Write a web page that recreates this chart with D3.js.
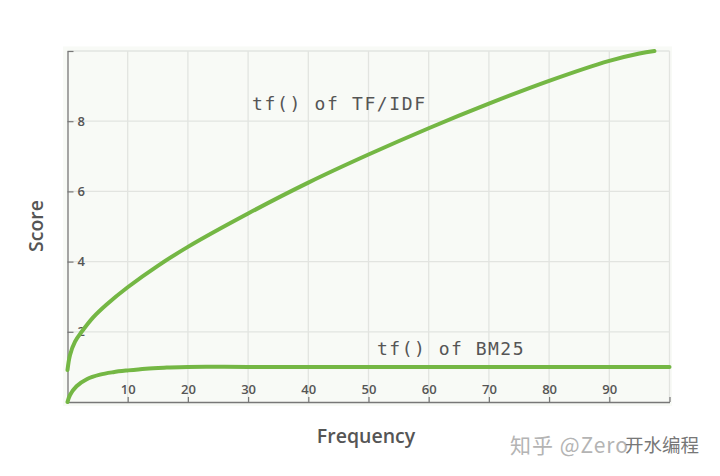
<!DOCTYPE html>
<html>
<head>
<meta charset="utf-8">
<script src="https://cdn.jsdelivr.net/npm/d3@7"></script>
<style>
  body { margin: 0; background: #fff; }
  .tick text { font-family: "Open Sans", sans-serif; font-weight: 600; font-size: 13px; fill: #555; }
</style>
</head>
<body>
<div id="chart"></div>
<script>
const xTicks = [10, 20, 30, 40, 50, 60, 70, 80, 90]
const yTicks = [2, 4, 6, 8]

const tfFreq = [0, 0.42, 1.25, 2.35, 4.3, 6.5, 10, 15, 20, 30, 40, 50, 60, 70, 80, 90, 95, 97.5]
const tfScore = [0.91, 1.34, 1.72, 2, 2.42, 2.78, 3.27, 3.88, 4.42, 5.37, 6.25, 7.05, 7.8, 8.5, 9.15, 9.72, 9.93, 10]
const bmFreq = [0, 0.42, 1.5, 3.2, 5.4, 7.6, 10, 13, 16.5, 20, 30, 50, 70, 100]
const bmScore = [0, 0.2, 0.45, 0.65, 0.78, 0.85, 0.9, 0.95, 0.98, 1, 1, 1, 1, 1]

const width = 720
const height = 476
const plotLeft = 67.5, plotRight = 669.5, plotTop = 51, plotBottom = 402

const svg = d3.select('#chart')
  .append('svg')
  .attr('width', width)
  .attr('height', height)
  .style('display', 'block')

const x = d3.scaleLinear().domain([0, 100]).range([plotLeft, plotRight])
const y = d3.scaleLinear().domain([0, 10]).range([plotBottom, plotTop])

svg.append('rect')
  .attr('x', 63).attr('y', 46.5)
  .attr('width', 609).attr('height', 359.5)
  .attr('fill', '#f8faf6')

// grid
svg.append('g')
  .selectAll('line')
  .data(xTicks.concat([100]))
  .enter().append('line')
  .attr('x1', d => x(d)).attr('x2', d => x(d))
  .attr('y1', plotTop).attr('y2', plotBottom)
  .attr('stroke', '#e2e4e0').attr('stroke-width', 1.3)

svg.append('g')
  .selectAll('line')
  .data(yTicks.concat([10]))
  .enter().append('line')
  .attr('x1', plotLeft).attr('x2', plotRight)
  .attr('y1', d => y(d)).attr('y2', d => y(d))
  .attr('stroke', '#e2e4e0').attr('stroke-width', 1.3)

// axes, ticks point into the plot
const xAxis = svg.append('g')
  .attr('transform', 'translate(0,' + plotBottom + ')')
  .call(d3.axisTop(x).tickValues(xTicks.concat([100])).tickSize(5).tickSizeOuter(0)
    .tickFormat(d => d === 100 ? '' : d))
xAxis.select('.domain').attr('stroke', '#777').attr('stroke-width', 1.3)
xAxis.selectAll('.tick line').attr('stroke', '#777').attr('stroke-width', 1.2)
xAxis.selectAll('.tick text').attr('y', -8)

const yAxis = svg.append('g')
  .attr('transform', 'translate(' + plotLeft + ',0)')
  .call(d3.axisRight(y).tickValues(yTicks.concat([10])).tickSize(6).tickSizeOuter(0)
    .tickFormat(d => d === 10 ? '' : d))
yAxis.select('.domain').attr('stroke', '#777').attr('stroke-width', 1.3)
yAxis.selectAll('.tick line').attr('stroke', '#777').attr('stroke-width', 1.2)
yAxis.selectAll('.tick text').attr('x', 10)

// curves
const line = d3.line()
  .x(d => x(d[0]))
  .y(d => y(d[1]))
  .curve(d3.curveCatmullRom)

svg.append('path')
  .attr('d', line(d3.zip(tfFreq, tfScore)))
  .attr('fill', 'none')
  .attr('stroke', '#74b744')
  .attr('stroke-width', 4)
  .attr('stroke-linecap', 'round')

svg.append('path')
  .attr('d', line(d3.zip(bmFreq, bmScore)))
  .attr('fill', 'none')
  .attr('stroke', '#74b744')
  .attr('stroke-width', 4)
  .attr('stroke-linecap', 'round')

// labels
svg.append('text')
  .attr('x', 252).attr('y', 109.5)
  .attr('font-family', '"DejaVu Sans Mono", monospace')
  .attr('font-size', 18)
  .attr('letter-spacing', 1.65)
  .attr('fill', '#555')
  .text('tf() of TF/IDF')

svg.append('text')
  .attr('x', 377).attr('y', 355)
  .attr('font-family', '"DejaVu Sans Mono", monospace')
  .attr('font-size', 18)
  .attr('letter-spacing', 1.5)
  .attr('fill', '#555')
  .text('tf() of BM25')

svg.append('text')
  .attr('x', 366).attr('y', 443)
  .attr('text-anchor', 'middle')
  .attr('font-family', '"Open Sans", sans-serif')
  .attr('font-weight', 600)
  .attr('font-size', 19.5)
  .attr('fill', '#555')
  .text('Frequency')

svg.append('text')
  .attr('transform', 'translate(43,226) rotate(-90)')
  .attr('text-anchor', 'middle')
  .attr('font-family', '"Open Sans", sans-serif')
  .attr('font-weight', 600)
  .attr('font-size', 19.5)
  .attr('fill', '#555')
  .text('Score')

// watermark, two overlapping strings
svg.append('text')
  .attr('x', 510).attr('y', 453)
  .attr('font-family', '"Noto Sans CJK SC", sans-serif')
  .attr('font-size', 21)
  .attr('letter-spacing', 1)
  .attr('fill', '#b4b4b4')
  .text('知乎 @Zero')

svg.append('text')
  .attr('x', 625).attr('y', 452)
  .attr('font-family', '"Noto Sans CJK SC", sans-serif')
  .attr('font-size', 18.5)
  .attr('fill', '#777')
  .text('开水编程')
</script>
</body>
</html>
